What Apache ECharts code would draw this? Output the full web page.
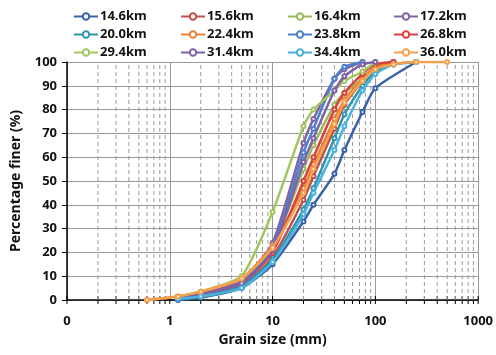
<!DOCTYPE html>
<html>
<head>
<meta charset="utf-8">
<script src="https://cdn.jsdelivr.net/npm/echarts@6/dist/echarts.min.js"></script>
<style>html,body{margin:0;padding:0;background:#fff}#c{width:496px;height:355px}</style>
</head>
<body>
<div id="c"></div>
<script>
// Sieve sizes (mm)
const SIZES = [0.6, 1.2, 2, 5, 10, 20, 25, 40, 50, 75, 100, 150, 250, 500];
// Percentage finer per station (null = no measurement)
const KM_14_6 = [null, 0, 1, 5, 15, 33, 40, 53, 63, 79, 89, null, 100, null];
const KM_15_6 = [null, 1, 2, 6, 18, 42, 52, 72, 82, 92, 98, 100, null, null];
const KM_16_4 = [null, 1, 3, 8, 22, 55, 65, 82, 87, 93, 97, 100, null, null];
const KM_17_2 = [null, 1, 3, 8, 24, 66, 76, 93, 97, 100, null, null, null, null];
const KM_20_0 = [null, 0.5, 1.5, 6, 17, 38, 47, 68, 78, 90, 96, 99, 100, null];
const KM_22_4 = [0, 1.5, 3.5, 9, 23, 47, 57, 76, 84, 93, 98, 100, null, null];
const KM_23_8 = [null, 1, 2.5, 7, 22, 62, 72, 93, 98, 100, null, null, null, null];
const KM_26_8 = [null, 1, 2.5, 7, 20, 50, 60, 80, 87, 95, 99, 100, null, null];
const KM_29_4 = [null, 1.5, 3.5, 10, 37, 73, 80, 88, 92, 96, 100, null, null, null];
const KM_31_4 = [null, 1, 2.5, 7, 21, 58, 68, 88, 94, 99, 100, null, null, null];
const KM_34_4 = [null, 0.5, 1.5, 5, 16, 36, 45, 63, 73, 88, 95, 99, 100, null];
const KM_36_0 = [0, 1.5, 3.5, 9, 22, 45, 55, 74, 83, 92, 97, 99, 100, 100];
const NAMES = ['14.6km','15.6km','16.4km','17.2km','20.0km','22.4km','23.8km','26.8km','29.4km','31.4km','34.4km','36.0km'];
const VALUES = [KM_14_6, KM_15_6, KM_16_4, KM_17_2, KM_20_0, KM_22_4, KM_23_8, KM_26_8, KM_29_4, KM_31_4, KM_34_4, KM_36_0];
// Axis ticks
const MAJOR_TICKS = [0.1, 1, 10, 100, 1000];
const MINOR_TICKS = [0.2,0.3,0.4,0.5,0.6,0.7,0.8,0.9, 2,3,4,5,6,7,8,9, 20,30,40,50,60,70,80,90, 200,300,400,500,600,700,800,900];

const COLORS = ['#3A62A8','#C0504D','#9BBB59','#8064A2','#2E95B0','#E8823A','#4A80CC','#D8423C','#A2C65E','#7E62A8','#4AB0DC','#F7A04A'];

const FONT = 'Noto Sans';
const chart = echarts.init(document.getElementById('c'), null, {renderer:'canvas'});

const series = NAMES.map((n, k) => ({
  name: n,
  type: 'line',
  data: SIZES.map((s, i) => [s, VALUES[k][i]]).filter(p => p[1] !== null),
  symbol: 'emptyCircle',
  symbolSize: 4,
  showSymbol: true,
  smooth: 0.2,
  lineStyle: {width: 2.5, color: COLORS[k]},
  itemStyle: {color: COLORS[k], borderWidth: 1},
  z: 3 + k
}));

// grid decorations: minor dashed gridlines + ticks on x axis
series.push({
  type: 'custom',
  name: 'ticks',
  silent: true,
  clip: false,
  z: 1,
  data: MINOR_TICKS.map(v => [v, 0]).concat(MAJOR_TICKS.map(v => [v, 1])),
  renderItem: function (params, api) {
    const v = api.value(0);
    const major = api.value(1) === 1;
    const p0 = api.coord([v, 0]);
    const p1 = api.coord([v, 100]);
    const children = [{
      type: 'line',
      shape: {x1: p0[0], y1: p0[1] - 4, x2: p0[0], y2: p0[1] + 4},
      style: {stroke: '#000', lineWidth: 1}
    }];
    if (!major) {
      children.push({
        type: 'line',
        shape: {x1: p0[0], y1: p0[1], x2: p1[0], y2: p1[1]},
        style: {stroke: '#9a9a9a', lineWidth: 1, lineDash: [4, 3]}
      });
    }
    return {type: 'group', children: children};
  }
});

const legends = [0,1,2,3].map(c => ({
  orient: 'vertical',
  left: [68, 175, 282, 388][c],
  top: 5,
  itemGap: 5,
  itemWidth: 24,
  itemHeight: 8,
  data: [NAMES[c], NAMES[c+4], NAMES[c+8]],
  textStyle: {fontFamily: FONT, fontWeight: 'bold', fontSize: 13, color: '#111', padding: [0,0,0,-3]}
}));

chart.setOption({
  animation: false,
  backgroundColor: '#fff',
  color: COLORS,
  legend: legends,
  grid: {left: 67, right: 16, top: 62, bottom: 55},
  xAxis: {
    type: 'log',
    logBase: 10,
    min: 0.1,
    max: 1000,
    name: 'Grain size (mm)',
    nameLocation: 'middle',
    nameGap: 25,
    nameTextStyle: {fontFamily: FONT, fontWeight: 'bold', fontSize: 14, color: '#111'},
    axisLine: {lineStyle: {color: '#000', width: 1.5}},
    axisTick: {show: false},
    axisLabel: {
      margin: 15,
      fontFamily: FONT, fontWeight: 'bold', fontSize: 13, color: '#111',
      formatter: v => (v < 1 ? '0' : String(Math.round(v)))
    },
    splitLine: {show: true, lineStyle: {color: '#999', width: 1}}
  },
  yAxis: {
    type: 'value',
    min: 0,
    max: 100,
    interval: 10,
    name: 'Percentage finer (%)',
    nameLocation: 'middle',
    nameGap: 44,
    nameTextStyle: {fontFamily: FONT, fontWeight: 'bold', fontSize: 14, color: '#111'},
    axisLine: {show: true, lineStyle: {color: '#000', width: 1.5}},
    axisTick: {show: true, length: 5, lineStyle: {color: '#000'}},
    axisLabel: {margin: 10, fontFamily: FONT, fontWeight: 'bold', fontSize: 13, color: '#111'},
    splitLine: {show: true, lineStyle: {color: '#999', width: 1}}
  },
  series: series
});
</script>
</body>
</html>
